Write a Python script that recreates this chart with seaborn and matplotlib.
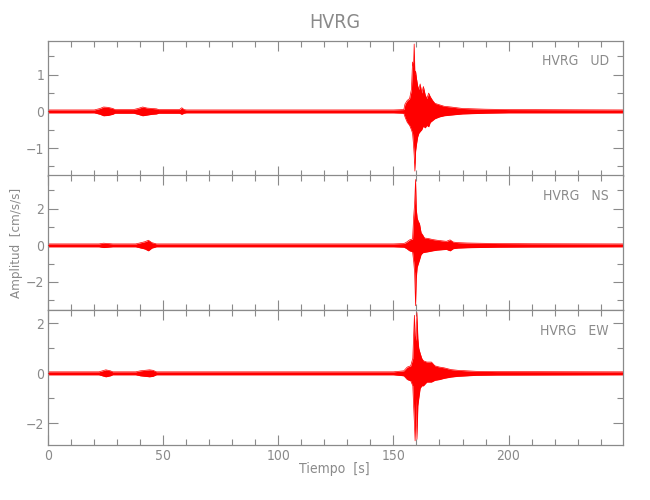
import numpy as np
import pandas as pd
import matplotlib
matplotlib.use("Agg")
import matplotlib.pyplot as plt
import seaborn as sns
from matplotlib.ticker import MultipleLocator

# ============================================
# DATOS (envolvente leida del registro)
# ============================================

ESTACION = "HVRG"
COMPONENTES = ["UD", "NS", "EW"]

# Componente UD
T_UD = [0, 20, 22.5, 24, 26, 28, 29, 37, 39, 41, 43, 45, 47, 48, 57, 58, 59, 60,
        150, 154.5, 155, 156, 157, 157.8, 158.3, 158.7, 159.0, 159.3, 159.6, 160.0,
        160.5, 161, 161.6, 162.3, 163, 163.8, 164.5, 165.3, 166, 167, 168, 170, 172,
        175, 180, 185, 190, 200, 250]
SUP_UD = [0.04, 0.04, 0.08, 0.12, 0.11, 0.08, 0.05, 0.05, 0.08, 0.12, 0.09, 0.08, 0.07,
          0.05, 0.05, 0.1, 0.05, 0.04, 0.04, 0.05, 0.2, 0.3, 0.35, 0.6, 1.35, 1.2, 1.84,
          1.0, 1.1, 0.9, 0.7, 0.6, 0.75, 0.5, 0.68, 0.45, 0.35, 0.5, 0.4, 0.3, 0.22, 0.18,
          0.14, 0.12, 0.08, 0.07, 0.06, 0.05, 0.04]
INF_UD = [-0.04, -0.04, -0.08, -0.12, -0.11, -0.08, -0.05, -0.05, -0.08, -0.12, -0.1,
          -0.08, -0.07, -0.05, -0.05, -0.08, -0.05, -0.04, -0.04, -0.05, -0.15, -0.3,
          -0.38, -0.5, -0.6, -0.9, -1.2, -1.63, -1.1, -0.9, -0.7, -0.6, -0.55, -0.5,
          -0.4, -0.45, -0.38, -0.42, -0.3, -0.25, -0.2, -0.15, -0.12, -0.1, -0.07,
          -0.06, -0.05, -0.04, -0.04]

# Componente NS
T_NS = [0, 22, 24, 26, 28, 38, 40, 42, 43.5, 45, 47, 150, 154.5, 155.5, 157, 158.3,
        158.8, 159.2, 159.6, 159.9, 160.3, 160.8, 161.3, 162, 162.8, 163.5, 165, 167,
        169, 171, 173, 174.6, 176, 178, 182, 186, 195, 210, 250]
SUP_NS = [0.08, 0.08, 0.12, 0.1, 0.08, 0.08, 0.14, 0.2, 0.28, 0.15, 0.08, 0.08, 0.1,
          0.16, 0.3, 0.35, 1.6, 2.3, 3.6, 2.0, 1.5, 1.3, 1.2, 0.7, 0.55, 0.4, 0.38, 0.32,
          0.28, 0.25, 0.22, 0.3, 0.18, 0.15, 0.13, 0.12, 0.1, 0.09, 0.08]
INF_NS = [-0.08, -0.08, -0.12, -0.1, -0.08, -0.08, -0.14, -0.2, -0.3, -0.15, -0.08,
          -0.08, -0.1, -0.16, -0.3, -0.35, -0.9, -1.5, -3.3, -1.8, -1.2, -1.0, -0.8,
          -0.5, -0.4, -0.38, -0.35, -0.3, -0.26, -0.24, -0.22, -0.3, -0.18, -0.15,
          -0.13, -0.12, -0.1, -0.09, -0.08]

# Componente EW
T_EW = [0, 22, 23.5, 25, 27, 28, 38, 40, 42, 44, 45.5, 47, 150, 154.5, 156, 157.5,
        158.4, 158.8, 159.1, 159.4, 159.8, 160.2, 160.6, 161, 161.6, 162.3, 163, 164.5,
        166.5, 168, 170, 172, 175, 178, 182, 186, 195, 250]
SUP_EW = [0.06, 0.06, 0.1, 0.14, 0.1, 0.06, 0.06, 0.1, 0.12, 0.14, 0.12, 0.06, 0.06,
          0.1, 0.25, 0.3, 0.6, 1.6, 2.32, 1.5, 1.3, 2.43, 1.4, 1.0, 0.8, 0.6, 0.5, 0.45,
          0.45, 0.3, 0.25, 0.22, 0.15, 0.12, 0.1, 0.08, 0.07, 0.06]
INF_EW = [-0.06, -0.06, -0.1, -0.14, -0.1, -0.06, -0.06, -0.1, -0.12, -0.14, -0.12,
          -0.06, -0.06, -0.1, -0.25, -0.3, -0.5, -1.4, -2.0, -2.7, -1.0, -2.64, -1.3,
          -1.0, -0.6, -0.5, -0.5, -0.35, -0.35, -0.28, -0.25, -0.2, -0.15, -0.12, -0.1,
          -0.08, -0.07, -0.06]

YLIMS = [(-1.75, 1.93), (-3.55, 3.82), (-2.87, 2.52)]
Y_MAYOR = [1, 2, 2]
Y_MENOR = [0.5, 1, 1]

# ============================================
# ESTILO
# ============================================

GRIS = "#8a8a8a"
sns.set_style("ticks")
plt.rcParams["font.family"] = ["DejaVu Sans"]
plt.rcParams.update({
    "font.stretch": "condensed",
    "font.weight": "light",
    "axes.edgecolor": GRIS,
    "axes.linewidth": 0.9,
    "xtick.color": GRIS,
    "ytick.color": GRIS,
    "xtick.labelcolor": GRIS,
    "ytick.labelcolor": GRIS,
    "font.size": 10,
})

datos = [
    pd.DataFrame({"t": T_UD, "sup": SUP_UD, "inf": INF_UD}),
    pd.DataFrame({"t": T_NS, "sup": SUP_NS, "inf": INF_NS}),
    pd.DataFrame({"t": T_EW, "sup": SUP_EW, "inf": INF_EW}),
]

fig = plt.figure(figsize=(6.5, 5), dpi=100)
izq, ancho = 0.0743, 0.8847
alto = 0.2696
abajo = [0.6490, 0.3794, 0.1098]

for i, (df, comp) in enumerate(zip(datos, COMPONENTES)):
    ax = fig.add_axes([izq, abajo[i], ancho, alto])
    ax.fill_between(df["t"], df["inf"], df["sup"], color="red", linewidth=0)
    sns.lineplot(data=df, x="t", y="sup", ax=ax, color="red", linewidth=0.5)
    sns.lineplot(data=df, x="t", y="inf", ax=ax, color="red", linewidth=0.5)
    ax.axhline(0, color="red", linewidth=0.6, zorder=3)

    ax.set_xlim(0, 249.9)
    ax.set_ylim(*YLIMS[i])
    ax.xaxis.set_major_locator(MultipleLocator(50))
    ax.xaxis.set_minor_locator(MultipleLocator(10))
    ax.yaxis.set_major_locator(MultipleLocator(Y_MAYOR[i]))
    ax.yaxis.set_minor_locator(MultipleLocator(Y_MENOR[i]))
    ax.tick_params(which="both", direction="in", top=True, right=True, color=GRIS)
    ax.tick_params(which="major", length=7, width=0.8, pad=3)
    ax.tick_params(which="minor", length=4, width=0.8)
    ax.set_xlabel("")
    ax.set_ylabel("")
    for s in ax.spines.values():
        s.set_visible(True)
    if i < 2:
        ax.set_xticklabels([])
    ax.text(0.975, 0.848, f"{ESTACION}   {comp}", transform=ax.transAxes,
            ha="right", va="center", color=GRIS, fontsize=10)

fig.text(0.515, 0.955, ESTACION, ha="center", va="center", color=GRIS, fontsize=14)
fig.text(0.026, 0.515, "Amplitud  [cm/s/s]", rotation=90, ha="center", va="center",
         color=GRIS, fontsize=9.5)
fig.text(0.515, 0.062, "Tiempo  [s]", ha="center", va="center", color=GRIS, fontsize=10)

fig.savefig("out.png", dpi=100, facecolor="white")
